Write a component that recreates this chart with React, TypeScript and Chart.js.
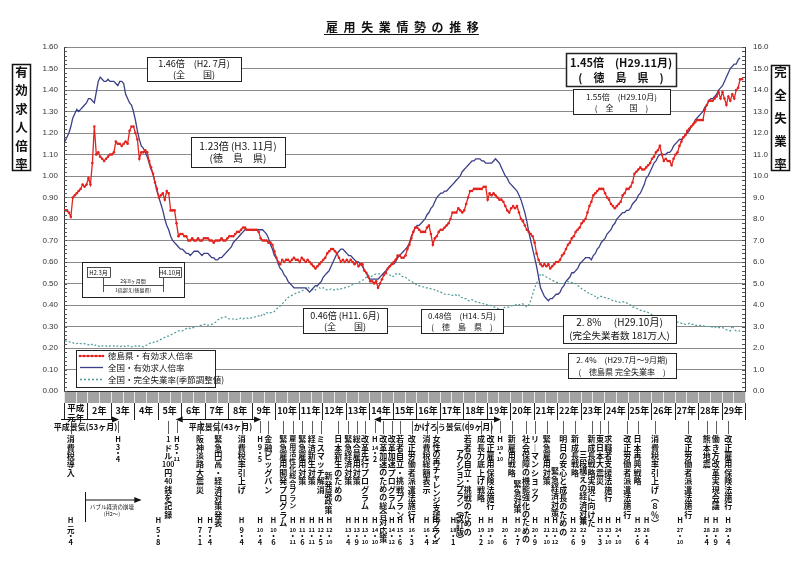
import React, { useEffect, useRef } from 'react';
import { Chart, registerables } from 'chart.js';

Chart.register(...registerables);

const JP = '"Noto Sans CJK JP", "Noto Sans", sans-serif';
const NUMF = '"Liberation Sans", Arial, sans-serif';

// ---- data (monthly, H1.1 = index 0) ----
const yearLabels = ['平成元年', '2年', '3年', '4年', '5年', '6年', '7年', '8年', '9年', '10年', '11年', '12年', '13年', '14年', '15年', '16年', '17年', '18年', '19年', '20年', '21年', '22年', '23年', '24年', '25年', '26年', '27年', '28年', '29年'];

// 徳島県・有効求人倍率 (H1.1 – H29.11)
const tokushimaRatio = [
  0.84, 0.84, 0.83, 0.81, 0.90, 0.91, 0.92, 0.93, 0.94, 0.96, 0.95, 0.96,
  0.99, 0.96, 1.06, 1.23, 1.10, 1.11, 1.09, 1.08, 1.07, 1.08, 1.09, 1.10,
  1.10, 1.11, 1.16, 1.15, 1.15, 1.14, 1.15, 1.16, 1.15, 1.21, 1.23, 1.23,
  1.20, 1.17, 1.08, 1.11, 1.11, 1.12, 1.11, 1.07, 1.04, 1.01, 0.97, 0.94,
  0.90, 0.91, 0.92, 0.89, 0.93, 0.92, 0.84, 0.84, 0.84, 0.78, 0.72, 0.73,
  0.73, 0.72, 0.72, 0.70, 0.70, 0.71, 0.70, 0.70, 0.71, 0.70, 0.70, 0.71,
  0.71, 0.71, 0.70, 0.70, 0.69, 0.70, 0.70, 0.70, 0.71, 0.70, 0.70, 0.71,
  0.72, 0.72, 0.72, 0.73, 0.74, 0.74, 0.75, 0.76, 0.76, 0.75, 0.75, 0.75,
  0.75, 0.75, 0.75, 0.74, 0.71, 0.70, 0.70, 0.70, 0.69, 0.69, 0.68, 0.65,
  0.62, 0.60, 0.59, 0.61, 0.60, 0.61, 0.61, 0.60, 0.61, 0.62, 0.61, 0.61,
  0.60, 0.62, 0.61, 0.60, 0.61, 0.60, 0.59, 0.58, 0.57, 0.58, 0.59, 0.60,
  0.61, 0.62, 0.64, 0.65, 0.66, 0.66, 0.65, 0.64, 0.62, 0.60, 0.61, 0.60,
  0.61, 0.60, 0.61, 0.60, 0.59, 0.60, 0.58, 0.59, 0.59, 0.56, 0.55, 0.53,
  0.51, 0.51, 0.50, 0.51, 0.48, 0.50, 0.52, 0.54, 0.55, 0.57, 0.58, 0.59,
  0.60, 0.61, 0.63, 0.63, 0.62, 0.62, 0.63, 0.66, 0.68, 0.71, 0.74, 0.76,
  0.76, 0.75, 0.74, 0.74, 0.74, 0.76, 0.77, 0.73, 0.68, 0.71, 0.72, 0.74,
  0.75, 0.75, 0.76, 0.77, 0.78, 0.80, 0.83, 0.83, 0.83, 0.85, 0.84, 0.83,
  0.84, 0.87, 0.90, 0.93, 0.93, 0.94, 0.94, 0.94, 0.94, 0.94, 0.95, 0.95,
  0.89, 0.92, 0.91, 0.92, 0.91, 0.90, 0.89, 0.89, 0.88, 0.86, 0.84, 0.83,
  0.85, 0.86, 0.85, 0.86, 0.83, 0.80, 0.79, 0.77, 0.75, 0.74, 0.73, 0.72,
  0.69, 0.64, 0.61, 0.59, 0.58, 0.59, 0.58, 0.59, 0.57, 0.58, 0.59, 0.60,
  0.60, 0.61, 0.63, 0.64, 0.66, 0.68, 0.69, 0.71, 0.72, 0.74, 0.75, 0.76,
  0.78, 0.79, 0.80, 0.83, 0.86, 0.88, 0.91, 0.92, 0.93, 0.94, 0.94, 0.94,
  0.92, 0.90, 0.89, 0.87, 0.86, 0.85, 0.86, 0.87, 0.88, 0.91, 0.92, 0.94,
  0.94, 0.95, 0.97, 1.01, 1.02, 1.03, 1.04, 1.03, 1.03, 1.04, 1.05, 1.06,
  1.08, 1.09, 1.11, 1.12, 1.14, 1.10, 1.07, 1.08, 1.07, 1.07, 1.05, 1.08,
  1.10, 1.11, 1.14, 1.16, 1.18, 1.19, 1.21, 1.22, 1.23, 1.24, 1.25, 1.26,
  1.26, 1.26, 1.26, 1.31, 1.33, 1.35, 1.35, 1.35, 1.36, 1.37, 1.39, 1.36,
  1.39, 1.36, 1.33, 1.37, 1.35, 1.38, 1.36, 1.40, 1.41, 1.45, 1.45,
];

// 全国・有効求人倍率 (H1.1 – H29.10)
const nationalRatio = [
  1.16, 1.18, 1.20, 1.23, 1.27, 1.29, 1.31, 1.30, 1.31, 1.32, 1.33, 1.34,
  1.36, 1.36, 1.35, 1.34, 1.39, 1.44, 1.46, 1.45, 1.44, 1.44, 1.45, 1.44,
  1.44, 1.44, 1.43, 1.42, 1.44, 1.44, 1.43, 1.38, 1.36, 1.34, 1.33, 1.30,
  1.26, 1.21, 1.17, 1.14, 1.13, 1.11, 1.09, 1.06, 1.03, 1.01, 0.97, 0.93,
  0.90, 0.87, 0.84, 0.80, 0.77, 0.75, 0.72, 0.70, 0.69, 0.68, 0.67, 0.66,
  0.66, 0.65, 0.64, 0.64, 0.63, 0.64, 0.65, 0.65, 0.65, 0.64, 0.63, 0.64,
  0.64, 0.64, 0.63, 0.62, 0.62, 0.61, 0.61, 0.62, 0.62, 0.63, 0.64, 0.65,
  0.66, 0.67, 0.69, 0.70, 0.71, 0.72, 0.73, 0.74, 0.75, 0.75, 0.75, 0.75,
  0.75, 0.75, 0.75, 0.75, 0.75, 0.75, 0.74, 0.73, 0.71, 0.68, 0.66, 0.63,
  0.62, 0.59, 0.57, 0.56, 0.54, 0.53, 0.51, 0.50, 0.49, 0.48, 0.48, 0.48,
  0.48, 0.48, 0.48, 0.48, 0.47, 0.46, 0.47, 0.48, 0.49, 0.49, 0.50, 0.51,
  0.53, 0.54, 0.55, 0.56, 0.58, 0.60, 0.62, 0.64, 0.65, 0.66, 0.66, 0.65,
  0.64, 0.63, 0.63, 0.62, 0.61, 0.60, 0.60, 0.59, 0.58, 0.56, 0.55, 0.53,
  0.52, 0.52, 0.52, 0.52, 0.52, 0.53, 0.54, 0.55, 0.56, 0.57, 0.58, 0.59,
  0.59, 0.60, 0.62, 0.63, 0.64, 0.65, 0.66, 0.67, 0.69, 0.72, 0.74, 0.76,
  0.77, 0.77, 0.78, 0.79, 0.80, 0.82, 0.83, 0.85, 0.86, 0.88, 0.90, 0.91,
  0.92, 0.92, 0.93, 0.93, 0.94, 0.95, 0.96, 0.97, 0.98, 0.99, 1.00, 1.02,
  1.03, 1.04, 1.05, 1.06, 1.07, 1.07, 1.08, 1.08, 1.08, 1.07, 1.07, 1.06,
  1.06, 1.06, 1.06, 1.07, 1.08, 1.07, 1.06, 1.04, 1.02, 1.00, 0.99, 0.97,
  0.96, 0.95, 0.94, 0.93, 0.91, 0.89, 0.86, 0.83, 0.79, 0.74, 0.70, 0.66,
  0.62, 0.58, 0.53, 0.48, 0.46, 0.44, 0.43, 0.42, 0.43, 0.43, 0.44, 0.45,
  0.45, 0.46, 0.48, 0.49, 0.51, 0.52, 0.53, 0.55, 0.55, 0.56, 0.57, 0.59,
  0.60, 0.61, 0.62, 0.62, 0.62, 0.61, 0.63, 0.64, 0.66, 0.67, 0.69, 0.70,
  0.71, 0.73, 0.74, 0.75, 0.77, 0.78, 0.80, 0.81, 0.82, 0.83, 0.83, 0.84,
  0.84, 0.85, 0.87, 0.88, 0.89, 0.91, 0.92, 0.94, 0.96, 0.99, 1.00, 1.02,
  1.04, 1.06, 1.07, 1.09, 1.10, 1.10, 1.10, 1.10, 1.11, 1.11, 1.12, 1.14,
  1.15, 1.16, 1.17, 1.17, 1.18, 1.19, 1.20, 1.21, 1.23, 1.24, 1.26, 1.27,
  1.28, 1.29, 1.30, 1.32, 1.33, 1.35, 1.36, 1.36, 1.37, 1.38, 1.40, 1.41,
  1.42, 1.44, 1.46, 1.48, 1.50, 1.51, 1.52, 1.52, 1.54, 1.55,
];

// 全国・完全失業率（季節調整値, %） (H1.1 – H29.10)
const unemploymentRate = [
  2.35, 2.3, 2.3, 2.25, 2.25, 2.2, 2.2, 2.25, 2.2, 2.2, 2.2, 2.15,
  2.15, 2.2, 2.15, 2.1, 2.15, 2.1, 2.05, 2.1, 2.1, 2.1, 2.05, 2.1,
  2.1, 2.1, 2.05, 2.1, 2.05, 2.1, 2.1, 2.05, 2.1, 2.1, 2.05, 2.1,
  2.1, 2.05, 2.1, 2.1, 2.05, 2.1, 2.15, 2.2, 2.25, 2.25, 2.3, 2.3,
  2.35, 2.4, 2.45, 2.5, 2.55, 2.55, 2.6, 2.65, 2.7, 2.75, 2.8, 2.8,
  2.8, 2.85, 2.9, 2.95, 2.9, 2.95, 2.95, 3.0, 3.0, 3.05, 3.05, 3.1,
  3.1, 3.05, 3.1, 3.1, 3.15, 3.2, 3.3, 3.35, 3.4, 3.45, 3.45, 3.4,
  3.35, 3.35, 3.35, 3.3, 3.35, 3.35, 3.4, 3.35, 3.4, 3.4, 3.35, 3.4,
  3.4, 3.45, 3.45, 3.5, 3.45, 3.6, 3.55, 3.65, 3.6, 3.65, 3.65, 3.7,
  3.8, 3.9, 3.95, 4.05, 4.15, 4.25, 4.35, 4.4, 4.45, 4.5, 4.55, 4.6,
  4.6, 4.65, 4.7, 4.75, 4.85, 4.75, 4.7, 4.75, 4.7, 4.9, 4.8, 4.75,
  4.8, 4.75, 4.7, 4.7, 4.75, 4.7, 4.7, 4.75, 4.7, 4.75, 4.8, 4.8,
  4.85, 4.85, 4.9, 4.95, 5.0, 5.0, 5.05, 5.1, 5.15, 5.2, 5.3, 5.4,
  5.3, 5.35, 5.4, 5.45, 5.45, 5.45, 5.4, 5.45, 5.45, 5.45, 5.4, 5.3,
  5.35, 5.45, 5.4, 5.45, 5.35, 5.3, 5.3, 5.2, 5.15, 5.1, 5.05, 5.0,
  4.9, 4.9, 4.85, 4.85, 4.8, 4.8, 4.8, 4.75, 4.75, 4.7, 4.7, 4.6,
  4.6, 4.55, 4.5, 4.5, 4.5, 4.45, 4.45, 4.5, 4.45, 4.5, 4.35, 4.35,
  4.3, 4.3, 4.2, 4.2, 4.25, 4.2, 4.15, 4.15, 4.1, 4.1, 4.05, 4.05,
  4.0, 4.0, 3.95, 3.9, 3.9, 3.85, 3.8, 3.75, 3.85, 3.9, 3.9, 3.9,
  3.95, 4.0, 4.0, 4.05, 4.0, 4.05, 4.05, 4.0, 3.9, 4.0, 4.2, 4.5,
  4.8, 5.0, 5.2, 5.45, 5.4, 5.35, 5.3, 5.25, 5.2, 5.15, 5.1, 5.05,
  5.05, 5.0, 5.0, 5.0, 5.05, 5.1, 5.05, 5.05, 5.0, 5.0, 4.9, 4.85,
  4.75, 4.7, 4.65, 4.6, 4.5, 4.5, 4.45, 4.4, 4.3, 4.4, 4.4, 4.35,
  4.35, 4.3, 4.3, 4.25, 4.2, 4.2, 4.15, 4.15, 4.1, 4.15, 4.15, 4.1,
  4.05, 4.0, 3.9, 3.9, 3.85, 3.8, 3.75, 3.75, 3.7, 3.7, 3.65, 3.6,
  3.55, 3.5, 3.5, 3.5, 3.5, 3.45, 3.45, 3.45, 3.4, 3.35, 3.35, 3.3,
  3.25, 3.2, 3.2, 3.15, 3.15, 3.1, 3.1, 3.15, 3.1, 3.1, 3.05, 3.05,
  3.05, 3.05, 3.05, 3.0, 3.0, 3.0, 3.0, 2.95, 2.95, 3.0, 2.95, 2.95,
  2.95, 2.9, 2.85, 2.8, 2.8, 3.05, 2.85, 2.8, 2.8, 2.8,
];

// bottom event annotations: m = column position (month index), dm = date column position
type Ev = { m: number; text: string; dm: number; y: string; mo: string; small?: boolean; sub?: { m: number; text: string; top: number } };
const events: Ev[] = [
  { m: 2.9, text: '消費税導入', dm: 2.9, y: '元', mo: '4' },
  { m: 52.8, text: '1ドル100円40銭を記録', dm: 47.7, y: '5', mo: '8' },
  { m: 69, text: '阪神淡路大震災', dm: 69, y: '7', mo: '1' },
  { m: 78.3, text: '緊急円高・経済対策発表', dm: 74.1, y: '7', mo: '4' },
  { m: 90.3, text: '消費税率引上げ', dm: 90.3, y: '9', mo: '4' },
  { m: 103.9, text: '金融ビッグバン', dm: 99.7, y: '10', mo: '4' },
  { m: 111.6, text: '緊急雇用開発プログラム', dm: 106.5, y: '10', mo: '6' },
  { m: 116.4, text: '雇用活性化総合プラン', dm: 116.4, y: '10', mo: '11', small: true },
  { m: 121.3, text: '緊急雇用対策', dm: 121.3, y: '11', mo: '6' },
  { m: 126.1, text: '経済新生対策', dm: 126.1, y: '11', mo: '11' },
  { m: 130.7, text: 'ミスマッチ解消', dm: 130.7, y: '12', mo: '5' },
  { m: 139.7, text: '日本新生のための', sub: { m: 134.6, text: '新発展政策', top: 472 }, dm: 135.1, y: '12', mo: '10' },
  { m: 144.8, text: '緊急経済対策', dm: 144.8, y: '13', mo: '4' },
  { m: 149.1, text: '総合雇用対策', dm: 149.1, y: '13', mo: '9' },
  { m: 153.3, text: '改革先行プログラム', dm: 153.3, y: '13', mo: '10' },
  { m: 162.7, text: '改革加速のための総合対応策', dm: 158.4, y: '14', mo: '10' },
  { m: 167, text: '改革加速プログラム', dm: 167, y: '14', mo: '12' },
  { m: 171.2, text: '若者自立・挑戦プラン', dm: 171.2, y: '15', mo: '6' },
  { m: 177.2, text: '改正労働者派遣法施行', dm: 177.2, y: '16', mo: '3' },
  { m: 184.8, text: '消費税総額表示', dm: 184.8, y: '16', mo: '4' },
  { m: 189.9, text: '女性の再チャレンジ支援プラン', dm: 189.1, y: '17', mo: '12' },
  { m: 205.8, text: '若者の自立・挑戦のための', sub: { m: 201.8, text: 'アクションプラン（改訂版）', top: 449 }, dm: 198.4, y: '18', mo: '1' },
  { m: 212.6, text: '成長力底上げ戦略', dm: 212.6, y: '19', mo: '2' },
  { m: 217.5, text: '改正雇用保険法施行', dm: 217.5, y: '19', mo: '10' },
  { m: 228.3, text: '新雇用戦略', dm: 224.8, y: '20', mo: '6' },
  { m: 235.6, text: '社会保障の機能強化のための', sub: { m: 231.3, text: '緊急対策', top: 480 }, dm: 231.3, y: '20', mo: '7' },
  { m: 240.2, text: 'リーマンショック', dm: 240.2, y: '20', mo: '9' },
  { m: 246.2, text: '緊急雇用対策', dm: 246.2, y: '21', mo: '10' },
  { m: 254.6, text: '明日の安心と成長のための', sub: { m: 250.4, text: '緊急経済対策', top: 467 }, dm: 250.4, y: '21', mo: '12' },
  { m: 260.6, text: '新成長戦略', dm: 259.7, y: '22', mo: '6' },
  { m: 269.1, text: '新成長戦略実現に向けた', sub: { m: 264.9, text: '三段構えの経済対策', top: 450 }, dm: 264.9, y: '22', mo: '9' },
  { m: 273.4, text: '東日本大震災', dm: 273.4, y: '23', mo: '3' },
  { m: 277.6, text: '求職者支援法施行', dm: 277.6, y: '23', mo: '10' },
  { m: 287.3, text: '改正労働者派遣法施行', dm: 282.7, y: '24', mo: '10' },
  { m: 292.6, text: '日本再興戦略', dm: 292.6, y: '25', mo: '6' },
  { m: 301.5, text: '消費税率引上げ（８％）', dm: 297.2, y: '26', mo: '4' },
  { m: 318.5, text: '改正労働者派遣法施行', dm: 314.3, y: '27', mo: '10' },
  { m: 327.9, text: '熊本地震', dm: 327.9, y: '28', mo: '4' },
  { m: 332.5, text: '働き方改革実現会議', dm: 332.5, y: '28', mo: '9' },
  { m: 338.9, text: '改正雇用保険法施行', dm: 338.9, y: '29', mo: '4' },
];
const turningPoints = [
  { m: 27.1, y: '3', mo: '4' },
  { m: 57.1, y: '5', mo: '11' },
  { m: 99.7, y: '9', mo: '5' },
  { m: 158.4, y: '14', mo: '2' },
  { m: 222.3, y: '19', mo: '10' },
];
const booms = [
  { from: -2, to: 27.1, label: '平成景気(53ヶ月)', lx: 10.5, leftHead: false },
  { from: 57.1, to: 99.7, label: '平成景気(43ヶ月)', lx: 79.5, leftHead: true },
  { from: 158.4, to: 222.3, label: 'かげろう景気(69ヶ月)', lx: 198.5, leftHead: true },
];

const RED = '#e3231e';
const NAVY = '#3b3f86';
const TEAL = '#4f9b9b';

const VMAP: Record<string, string> = { 'ー': '｜', '（': '︵', '）': '︶', '(': '︵', ')': '︶' };
function tokens(s: string): string[] {
  const out: string[] = [];
  let i = 0;
  while (i < s.length) {
    if (/[0-9]/.test(s[i])) {
      let j = i;
      while (j < s.length && /[0-9]/.test(s[j])) j++;
      out.push(s.slice(i, j));
      i = j;
    } else {
      out.push(VMAP[s[i]] || s[i]);
      i++;
    }
  }
  return out;
}

function vText(ctx: CanvasRenderingContext2D, text: string, x: number, top: number, size: number, maxLen: number) {
  const toks = tokens(text);
  const step = Math.min(size + 0.4, maxLen / toks.length);
  ctx.textAlign = 'center';
  ctx.textBaseline = 'middle';
  toks.forEach((t, i) => {
    const isNum = /^[0-9]+$/.test(t);
    ctx.font = `bold ${isNum ? size - 1 : size}px ${JP}`;
    ctx.fillText(t, x, top + step / 2 + i * step);
  });
}

function dateCol(ctx: CanvasRenderingContext2D, x: number, y0: number, yr: string, mo: string, gaps: number[]) {
  ctx.textAlign = 'center';
  ctx.textBaseline = 'middle';
  const parts = ['H', yr, '・', mo];
  parts.forEach((p, i) => {
    const sz = p.length > 1 ? 5.5 : 7.5;
    ctx.font = `bold ${sz}px ${JP}`;
    ctx.fillText(p, x, y0 + gaps[i]);
  });
}

function textBox(ctx: CanvasRenderingContext2D, x1: number, y1: number, x2: number, y2: number, lines: { t: string; y: number; f: string }[], lw = 1) {
  ctx.fillStyle = '#fff';
  ctx.fillRect(x1, y1, x2 - x1, y2 - y1);
  ctx.strokeStyle = '#222';
  ctx.lineWidth = lw;
  ctx.strokeRect(x1 + 0.5, y1 + 0.5, x2 - x1, y2 - y1);
  ctx.fillStyle = '#111';
  ctx.textAlign = 'center';
  ctx.textBaseline = 'middle';
  lines.forEach((l) => {
    ctx.font = l.f;
    ctx.fillText(l.t, (x1 + x2) / 2, l.y);
  });
}

function arrowLine(ctx: CanvasRenderingContext2D, x1: number, x2: number, y: number, leftHead: boolean, rightHead: boolean) {
  ctx.strokeStyle = '#111';
  ctx.fillStyle = '#111';
  ctx.lineWidth = 1.2;
  ctx.beginPath();
  ctx.moveTo(x1, y);
  ctx.lineTo(x2, y);
  ctx.stroke();
  if (rightHead) {
    ctx.beginPath();
    ctx.moveTo(x2 + 1, y);
    ctx.lineTo(x2 - 6, y - 3);
    ctx.lineTo(x2 - 6, y + 3);
    ctx.closePath();
    ctx.fill();
  }
  if (leftHead) {
    ctx.beginPath();
    ctx.moveTo(x1 - 1, y);
    ctx.lineTo(x1 + 6, y - 3);
    ctx.lineTo(x1 + 6, y + 3);
    ctx.closePath();
    ctx.fill();
  }
}

const decorPlugin = {
  id: 'decor',
  afterDraw(chart: any) {
    const ctx: CanvasRenderingContext2D = chart.ctx;
    const xs = chart.scales.x;
    const ys = chart.scales.y;
    const { left, right, top, bottom } = chart.chartArea;
    const px = (m: number) => xs.getPixelForValue(m);
    ctx.save();

    // minor ticks on both vertical axes
    ctx.strokeStyle = '#555';
    ctx.lineWidth = 1;
    for (let v = 0; v <= 1.6001; v += 0.02) {
      const y = Math.round(ys.getPixelForValue(v)) + 0.5;
      ctx.beginPath();
      ctx.moveTo(left, y);
      ctx.lineTo(left + 3, y);
      ctx.moveTo(right - 3, y);
      ctx.lineTo(right, y);
      ctx.stroke();
    }

    // ---- annotation boxes in plot ----
    textBox(ctx, 147, 57, 241, 81, [
      { t: '1.46倍　(H2. 7月)', y: 63.5, f: `9px ${JP}` },
      { t: '(全　　国)', y: 74.5, f: `9px ${JP}` },
    ]);
    textBox(ctx, 191, 137, 285, 167, [
      { t: '1.23倍 (H3. 11月)', y: 146.5, f: `10px ${JP}` },
      { t: '(徳　島　県)', y: 158.5, f: `10px ${JP}` },
    ]);
    textBox(ctx, 566, 53, 676, 86, [
      { t: '1.45倍　(H29.11月)', y: 62.5, f: `bold 11px ${JP}` },
      { t: '(　徳　島　県　)', y: 77.5, f: `bold 11px ${JP}` },
    ], 1.5);
    textBox(ctx, 573, 89, 670, 114, [
      { t: '1.55倍　(H29.10月)', y: 96.5, f: `8px ${JP}` },
      { t: '(　全　　国　)', y: 107.5, f: `8px ${JP}` },
    ]);
    textBox(ctx, 303, 308, 387, 333, [
      { t: '0.46倍 (H11. 6月)', y: 315.5, f: `9px ${JP}` },
      { t: '(全　　国)', y: 326.5, f: `9px ${JP}` },
    ]);
    textBox(ctx, 421, 309, 503, 333, [
      { t: '0.48倍　(H14. 5月)', y: 316, f: `8px ${JP}` },
      { t: '(　徳　島　県　)', y: 326.5, f: `8px ${JP}` },
    ]);
    textBox(ctx, 563, 315, 676, 343, [
      { t: '2. 8%　 (H29.10月)', y: 322.5, f: `10px ${JP}` },
      { t: '(完全失業者数 181万人)', y: 335, f: `9.5px ${JP}` },
    ]);
    textBox(ctx, 568, 353, 676, 378, [
      { t: '2. 4%　(H29.7月～9月期)', y: 360, f: `8px ${JP}` },
      { t: '(　徳島県 完全失業率　)', y: 371.5, f: `8px ${JP}` },
    ]);

    // H2.3 - H4.10 diagram
    textBox(ctx, 82, 262, 184, 297, []);
    textBox(ctx, 87, 267, 110, 277, [{ t: 'H2.3月', y: 272.5, f: `6px ${JP}` }], 0.8);
    textBox(ctx, 159, 267, 181, 277, [{ t: 'H4.10月', y: 272.5, f: `6px ${JP}` }], 0.8);
    ctx.strokeStyle = '#222';
    ctx.lineWidth = 0.8;
    ctx.beginPath();
    ctx.moveTo(103.5, 278); ctx.lineTo(103.5, 292);
    ctx.moveTo(163.5, 278); ctx.lineTo(163.5, 292);
    ctx.moveTo(103.5, 285.5); ctx.lineTo(163.5, 285.5);
    ctx.stroke();
    ctx.fillStyle = '#111';
    ctx.font = `5px ${JP}`;
    ctx.textAlign = 'center';
    ctx.fillText('2年8ヶ月間', 133, 281);
    ctx.fillText('1倍超え(徳島県)', 133, 290);

    // legend
    textBox(ctx, 76, 350, 215, 387, []);
    const legendRows = [
      { y: 356, label: '徳島県・有効求人倍率', color: RED, dash: [] as number[], dots: true },
      { y: 367.5, label: '全国・有効求人倍率', color: NAVY, dash: [] as number[], dots: false },
      { y: 379.5, label: '全国・完全失業率(季節調整値)', color: TEAL, dash: [2, 2], dots: false },
    ];
    legendRows.forEach((r) => {
      ctx.strokeStyle = r.color;
      ctx.lineWidth = 1.3;
      ctx.setLineDash(r.dash);
      ctx.beginPath();
      ctx.moveTo(80, r.y);
      ctx.lineTo(103, r.y);
      ctx.stroke();
      ctx.setLineDash([]);
      if (r.dots) {
        ctx.fillStyle = r.color;
        [80, 84, 88, 92, 96, 100, 103].forEach((dx) => {
          ctx.beginPath();
          ctx.arc(dx, r.y, 1.3, 0, Math.PI * 2);
          ctx.fill();
        });
      }
      ctx.fillStyle = '#111';
      ctx.font = `8.5px ${JP}`;
      ctx.textAlign = 'left';
      ctx.textBaseline = 'middle';
      ctx.fillText(r.label, 108, r.y);
    });

    // ---- title ----
    ctx.fillStyle = '#111';
    ctx.font = `bold 12px ${JP}`;
    ctx.textAlign = 'center';
    ctx.textBaseline = 'middle';
    const title = '雇用失業情勢の推移';
    for (let i = 0; i < title.length; i++) ctx.fillText(title[i], 332 + i * 17.6, 27);
    ctx.strokeStyle = '#111';
    ctx.lineWidth = 1;
    ctx.beginPath();
    ctx.moveTo(324, 34.5);
    ctx.lineTo(479, 34.5);
    ctx.stroke();

    // axis title boxes
    ctx.lineWidth = 1.5;
    ctx.strokeRect(12.5, 64.5, 18, 106);
    ctx.strokeRect(771.5, 65.5, 18, 105);
    ctx.font = `bold 12.5px ${JP}`;
    const lt = '有効求人倍率';
    for (let i = 0; i < lt.length; i++) ctx.fillText(lt[i], 21.5, 72 + i * 18.5);
    const rt = '完全失業率';
    for (let i = 0; i < rt.length; i++) ctx.fillText(rt[i], 780.5, 72 + i * 23);

    // ---- bottom band ----
    ctx.fillStyle = '#a3a3a3';
    ctx.fillRect(left, bottom + 1, right - left, 11);
    ctx.strokeStyle = '#e6e6e6';
    ctx.lineWidth = 1;
    for (let m = 0; m <= 348; m += 6) {
      const x = Math.round(px(m - 0.5)) + 0.5;
      ctx.beginPath();
      ctx.moveTo(x, bottom + 1);
      ctx.lineTo(x, bottom + 12);
      ctx.stroke();
    }

    // year row
    ctx.strokeStyle = '#222';
    ctx.lineWidth = 1;
    for (let yI = 0; yI <= yearLabels.length; yI++) {
      const x = Math.round(px(yI * 12 - 0.5)) + 0.5;
      ctx.beginPath();
      ctx.moveTo(x, bottom + 12);
      ctx.lineTo(x, 420);
      ctx.stroke();
    }
    ctx.fillStyle = '#111';
    yearLabels.forEach((lab, i) => {
      const cx = px(i * 12 + 5.5);
      ctx.textAlign = 'center';
      ctx.textBaseline = 'middle';
      if (i === 0) {
        ctx.font = `bold 8.5px ${JP}`;
        ctx.fillText('平成', cx, 408);
        ctx.fillText('元年', cx, 418);
      } else {
        ctx.font = `bold 9px ${JP}`;
        ctx.fillText(lab, cx, 411);
      }
    });

    // boom arrows
    booms.forEach((b) => {
      arrowLine(ctx, px(b.from), px(b.to), 419.5, b.leftHead, true);
      ctx.fillStyle = '#111';
      ctx.font = `bold 8px ${JP}`;
      ctx.textAlign = 'center';
      ctx.textBaseline = 'middle';
      ctx.fillText(b.label, px(b.lx), 427);
    });

    // connectors + event texts
    ctx.strokeStyle = '#333';
    ctx.lineWidth = 0.8;
    events.forEach((e) => {
      const x = Math.round(px(e.m)) + 0.5;
      ctx.beginPath();
      ctx.moveTo(x, 421);
      ctx.lineTo(x, 434);
      ctx.stroke();
    });
    turningPoints.forEach((t) => {
      const x = Math.round(px(t.m)) + 0.5;
      ctx.beginPath();
      ctx.moveTo(x, 421);
      ctx.lineTo(x, 433);
      ctx.stroke();
    });
    ctx.fillStyle = '#111';
    events.forEach((e) => {
      const sz = e.small ? 7 : 8;
      vText(ctx, e.text, px(e.m), 435, sz, 108);
      if (e.sub) vText(ctx, e.sub.text, px(e.sub.m), e.sub.top, 8, 543 - e.sub.top);
      dateCol(ctx, px(e.dm), 520, e.y, e.mo, [0, 10, 16, 22]);
    });
    turningPoints.forEach((t) => dateCol(ctx, px(t.m), 439, t.y, t.mo, [0, 8.5, 14, 20]));

    // bubble collapse arrow
    const bx = px(10.5);
    ctx.strokeStyle = '#111';
    ctx.lineWidth = 1;
    ctx.beginPath();
    ctx.moveTo(bx, 492);
    ctx.lineTo(bx, 522);
    ctx.stroke();
    arrowLine(ctx, bx, px(38.5), 500, false, true);
    ctx.fillStyle = '#111';
    ctx.font = `5.5px ${JP}`;
    ctx.textAlign = 'center';
    ctx.fillText('バブル経済の崩壊', px(24), 507);
    ctx.fillText('(H2～)', px(24), 514);

    ctx.restore();
  },
};

export default function App() {
  const ref = useRef<HTMLCanvasElement>(null);
  useEffect(() => {
    document.body.style.margin = '0';
    const toXY = (arr: number[]) => arr.map((v, i) => ({ x: i, y: v }));
    const chart = new Chart(ref.current as HTMLCanvasElement, {
      type: 'line',
      data: {
        datasets: [
          {
            label: '全国・完全失業率(季節調整値)',
            data: toXY(unemploymentRate),
            yAxisID: 'y1',
            borderColor: TEAL,
            borderWidth: 1.2,
            borderDash: [2, 2],
            pointRadius: 0,
            tension: 0,
            order: 3,
          },
          {
            label: '全国・有効求人倍率',
            data: toXY(nationalRatio),
            yAxisID: 'y',
            borderColor: NAVY,
            borderWidth: 1.3,
            pointRadius: 0,
            tension: 0,
            order: 2,
          },
          {
            label: '徳島県・有効求人倍率',
            data: toXY(tokushimaRatio),
            yAxisID: 'y',
            borderColor: RED,
            borderWidth: 1.3,
            pointRadius: 1.3,
            pointBorderWidth: 0,
            pointBackgroundColor: RED,
            tension: 0,
            order: 1,
          },
        ],
      },
      options: {
        responsive: false,
        animation: false,
        devicePixelRatio: 1,
        layout: { padding: { top: 47, left: 0, right: 0, bottom: 0 } },
        plugins: { legend: { display: false }, tooltip: { enabled: false }, title: { display: false } },
        scales: {
          x: {
            type: 'linear',
            min: -0.5,
            max: 347.5,
            ticks: { display: false },
            grid: { display: false },
            border: { display: true, color: '#333', width: 1 },
            afterFit: (s: any) => { s.height = 177; },
          },
          y: {
            position: 'left',
            min: 0,
            max: 1.6,
            ticks: {
              stepSize: 0.1,
              maxTicksLimit: 30,
              autoSkip: false,
              padding: 6,
              color: '#333',
              font: { family: NUMF, size: 8 },
              callback: (v: any) => Number(v).toFixed(2),
            },
            grid: { color: '#8a8a8a', lineWidth: 1, drawTicks: false },
            border: { display: true, color: '#333', width: 1 },
            afterFit: (s: any) => { s.width = 64; },
          },
          y1: {
            position: 'right',
            min: 0,
            max: 16,
            ticks: {
              stepSize: 1,
              maxTicksLimit: 30,
              autoSkip: false,
              padding: 8,
              color: '#333',
              font: { family: NUMF, size: 8 },
              callback: (v: any) => Number(v).toFixed(1),
            },
            grid: { display: false, drawTicks: false },
            border: { display: true, color: '#333', width: 1 },
            afterFit: (s: any) => { s.width = 55; },
          },
        },
      },
      plugins: [decorPlugin],
    } as any);
    return () => chart.destroy();
  }, []);
  return (
    <div style={{ width: 800, height: 568, position: 'relative', background: '#fff' }}>
      <canvas ref={ref} width={800} height={568} style={{ display: 'block', width: 800, height: 568 }} />
    </div>
  );
}
